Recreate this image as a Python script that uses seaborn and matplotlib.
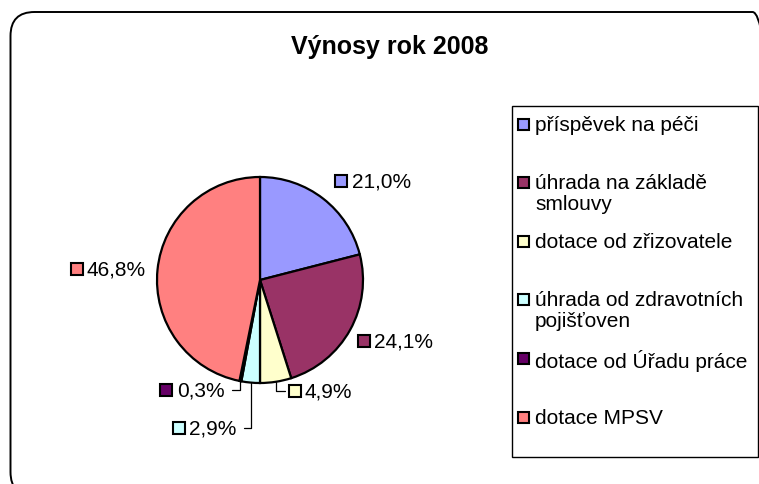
import numpy as np
import matplotlib
matplotlib.use('Agg')
import matplotlib.pyplot as plt
from matplotlib.patches import FancyBboxPatch, Rectangle
import seaborn as sns

sns.set_style('white')
plt.rcParams['font.family'] = ['Liberation Sans', 'DejaVu Sans']
plt.rcParams['text.color'] = 'black'

# Výnosy rok 2008 (%)
labels = ['příspěvek na péči', 'úhrada na základě\nsmlouvy', 'dotace od zřizovatele',
          'úhrada od zdravotních\npojišťoven', 'dotace od Úřadu práce', 'dotace MPSV']
values = [21.0, 24.1, 4.9, 2.9, 0.3, 46.8]
colors = ['#9999FF', '#993366', '#FFFFCC', '#CCFFFF', '#660066', '#FF8080']

# where Excel put the data labels (square marker centre, in pie radius units)
labelPos = [(0.79, 0.96), (1.01, -0.59), (0.335, -1.078),
            (-0.79, -1.437), (-0.908, -1.068), (-1.78, 0.107)]
leader = [False, False, True, True, True, False]

W, H = 759, 485
fig = plt.figure(figsize=(W / 100, H / 100), dpi=100)

# outer rounded chart frame (partly cut off right/bottom like the original)
frame = FancyBboxPatch((10.5, -12), 766, 484, boxstyle='round,pad=0,rounding_size=24',
                       transform=None, facecolor='none', edgecolor='black', linewidth=1.4)
fig.patches.append(frame)

fig.text(390 / W, (H - 54) / H, 'Výnosy rok 2008', ha='center', va='baseline',
         fontsize=18, fontweight='bold')

cx, cy, r = 260, 281, 103
ax = fig.add_axes([(cx - r) / W, (H - cy - r) / H, 2 * r / W, 2 * r / H])
wedges, _ = ax.pie(values, colors=colors, startangle=90, counterclock=False,
                   wedgeprops={'edgecolor': 'black', 'linewidth': 1.6})
ax.set_xlim(-1, 1)
ax.set_ylim(-1, 1)
ax.axis('off')

fs = 15
texts = []
for i, w in enumerate(wedges):
    lx, ly = labelPos[i]
    txt = ('%.1f%%' % values[i]).replace('.', ',')
    ax.plot(lx, ly, marker='s', markersize=8.5, markerfacecolor=colors[i],
            markeredgecolor='black', markeredgewidth=1.5, clip_on=False)
    texts.append(ax.text(lx + 0.1, ly, txt, ha='left', va='center', fontsize=fs, clip_on=False))

# leader lines for the small slices
fig.canvas.draw()
inv = ax.transData.inverted()
for i, w in enumerate(wedges):
    if not leader[i]:
        continue
    lx, ly = labelPos[i]
    ang = np.deg2rad((w.theta1 + w.theta2) / 2)
    px, py = np.cos(ang), np.sin(ang)
    if lx > px:
        endx = lx - 0.09
    else:
        bb = texts[i].get_window_extent()
        endx = inv.transform((bb.x1, bb.y0))[0] + 0.07
    ax.plot([px, px, endx], [py, ly, ly], color='black', lw=0.9, clip_on=False)

# legend box
fig.patches.append(Rectangle((512, H - 458), 246, 351, transform=None,
                             facecolor='white', edgecolor='black', linewidth=1.0, zorder=-1))
legY = [125, 183, 242, 300, 359, 418]
for i, lab in enumerate(labels):
    y = legY[i]
    fig.patches.append(Rectangle((518, H - y - 6), 11, 11, transform=None,
                                 facecolor=colors[i], edgecolor='black', linewidth=1.5))
    fig.text(535 / W, (H - y + 9) / H, lab, ha='left', va='top', fontsize=fs,
             linespacing=1.15)

fig.savefig('out.png', dpi=100)
